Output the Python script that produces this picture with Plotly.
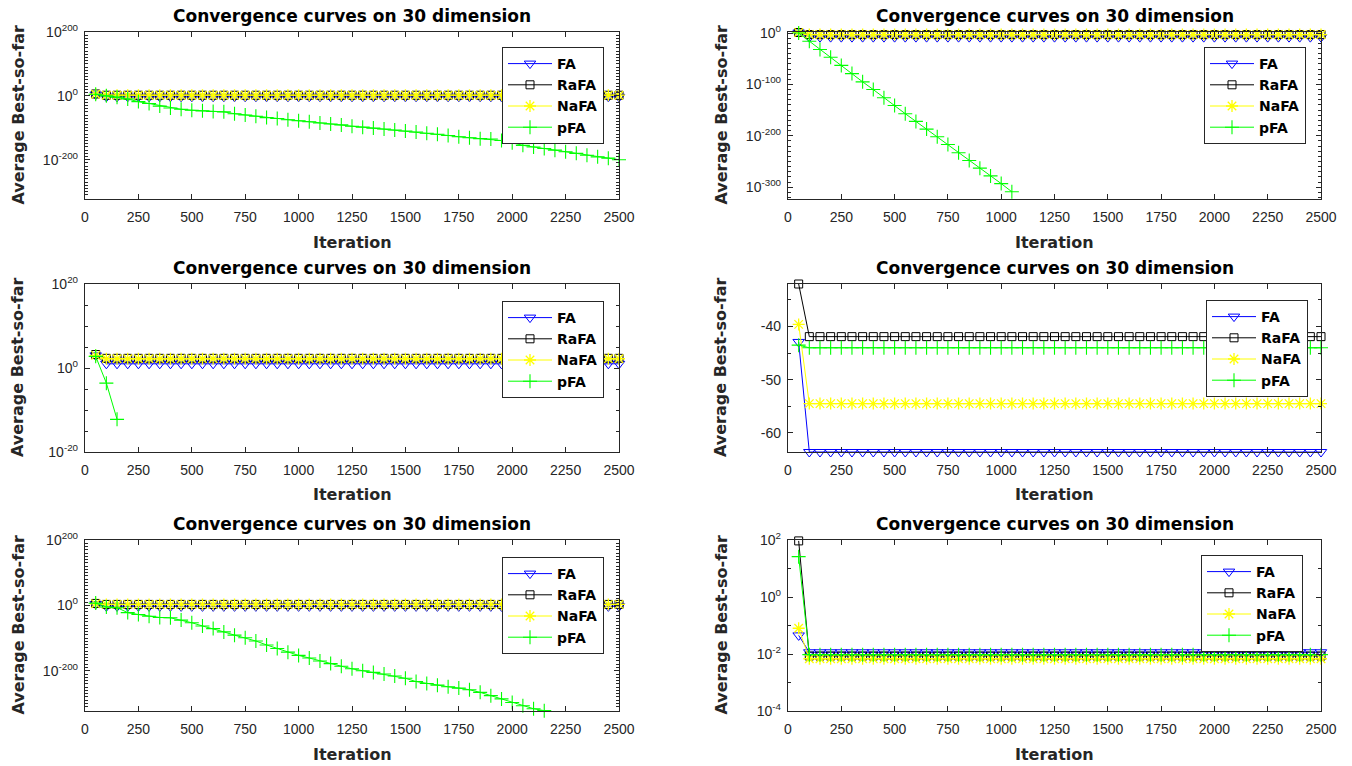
import plotly.graph_objects as go

# ---------------- data ----------------
ITER = list(range(50, 2501, 50))          # iteration at which each point is recorded
SERIES = ["FA", "RaFA", "NaFA", "pFA"]

# Panel 1 (top-left)
p1_FA   = [1e4]  + [1e-3] * 49
p1_RaFA = [1e6]  + [1e2] * 49
p1_NaFA = [1e5]  + [1e2] * 49
p1_pFA  = [1e5, 1e0, 1e-4, 1e-10, 1e-18, 1e-24, 1e-32, 1e-38, 1e-42, 1e-45,
           1e-47, 1e-49, 1e-50, 1e-56, 1e-60, 1e-64, 1e-68, 1e-71, 1e-75, 1e-78,
           1e-81, 1e-85, 1e-88, 1e-91, 1e-95, 1e-98, 1e-101, 1e-104, 1e-107, 1e-110,
           1e-113, 1e-117, 1e-120, 1e-124, 1e-128, 1e-131, 1e-134, 1e-135, 1e-140, 1e-147,
           1e-155, 1e-160, 1e-165, 1e-170, 1e-175, 1e-180, 1e-186, 1e-191, 1e-195, 1e-200]

# Panel 2 (top-right)
p2_FA   = [1e1] + [1e-8] * 49
p2_RaFA = [1e1] + [1e-3] * 49
p2_NaFA = [1e1] + [1e-3] * 49
p2_pFA  = [1e0, 1e-16, 1e-32, 1e-47, 1e-63, 1e-79, 1e-95, 1e-110, 1e-126, 1e-141,
           1e-157, 1e-172, 1e-187, 1e-202, 1e-217, 1e-233, 1e-248, 1e-263, 1e-278, 1e-293,
           1e-309]

# Panel 3 (middle-left)
p3_FA   = [1e3] + [1e1] * 49
p3_RaFA = [1.6e3] + [2e2] * 49
p3_NaFA = [1e3] + [1.6e2] * 49
p3_pFA  = [6e2, 2.5e-4, 6e-13]

# Panel 4 (middle-right, linear)
p4_FA   = [-42.9] + [-63.6] * 49
p4_RaFA = [-32.0] + [-41.9] * 49
p4_NaFA = [-39.6] + [-54.5] * 49
p4_pFA  = [-43.5] + [-44.0] * 49

# Panel 5 (bottom-left)
p5_FA   = [1e4] + [1e-3] * 49
p5_RaFA = [1e6] + [1e3] * 49
p5_NaFA = [1e5] + [1e3] * 49
p5_pFA  = [1e7, 1e-5, 1e-7, 1e-22, 1e-28, 1e-33, 1e-37, 1e-38, 1e-45, 1e-53,
           1e-63, 1e-71, 1e-81, 1e-91, 1e-99, 1e-109, 1e-121, 1e-132, 1e-143, 1e-153,
           1e-161, 1e-170, 1e-178, 1e-186, 1e-194, 1e-200, 1e-205, 1e-210, 1e-216, 1e-223,
           1e-233, 1e-239, 1e-244, 1e-249, 1e-253, 1e-258, 1e-266, 1e-276, 1e-286, 1e-297,
           1e-307, 1e-316, 1e-322]

# Panel 6 (bottom-right)
p6_FA   = [4.5e-2] + [1.15e-2] * 49
p6_RaFA = [93.0]   + [8.5e-3] * 49
p6_NaFA = [8.0e-2] + [6.8e-3] * 49
p6_pFA  = [26.0]   + [9.5e-3] * 49

PANELS = [
    dict(FA=p1_FA, RaFA=p1_RaFA, NaFA=p1_NaFA, pFA=p1_pFA),
    dict(FA=p2_FA, RaFA=p2_RaFA, NaFA=p2_NaFA, pFA=p2_pFA),
    dict(FA=p3_FA, RaFA=p3_RaFA, NaFA=p3_NaFA, pFA=p3_pFA),
    dict(FA=p4_FA, RaFA=p4_RaFA, NaFA=p4_NaFA, pFA=p4_pFA),
    dict(FA=p5_FA, RaFA=p5_RaFA, NaFA=p5_NaFA, pFA=p5_pFA),
    dict(FA=p6_FA, RaFA=p6_RaFA, NaFA=p6_NaFA, pFA=p6_pFA),
]

X_TICKS = [0, 250, 500, 750, 1000, 1250, 1500, 1750, 2000, 2250, 2500]
TITLE = "Convergence curves on 30 dimension"
XLABEL = "Iteration"
YLABEL = "Average Best-so-far"

# ---------------- styling ----------------
W, H = 1352, 766
COLORS = {"FA": "#0000FF", "RaFA": "#000000", "NaFA": "#FFFF00", "pFA": "#00FF00"}
SYMBOLS = {"FA": "triangle-down-open", "RaFA": "square-open",
           "NaFA": "asterisk-open", "pFA": "cross-thin-open"}
SIZES = {"FA": 10, "RaFA": 8, "NaFA": 10, "pFA": 10}
MLW = {"FA": 1, "RaFA": 1, "NaFA": 1.3, "pFA": 1.1}

COLS = [(85, 619), (788, 1321)]
ROWS = [(32, 199), (284, 452), (540, 711)]
LEGEND_POS = [(604, 47), (1306, 47), (604, 301), (1308, 300), (604, 557), (1303, 555)]

AXC = "#262626"
BOLD = "DejaVu Sans"
TICKF = "Liberation Sans"


def px(x):
    return x / W


def py(y):
    return 1 - y / H


def sup(e):
    return "10<sup>%d</sup>" % e


# y-axis configs per panel
YCFG = [
    dict(type="log", range=[-323, 200],
         tickvals=[1e-200, 1e0, 1e200], ticktext=[sup(-200), sup(0), sup(200)],
         minor_vals=[10.0 ** k for k in range(-320, 201, 10)]),
    dict(type="log", range=[-323, 2],
         tickvals=[1e-300, 1e-200, 1e-100, 1e0],
         ticktext=[sup(-300), sup(-200), sup(-100), sup(0)],
         minor_vals=[10.0 ** k for k in range(-320, 1, 10)]),
    dict(type="log", range=[-20, 20],
         tickvals=[1e-20, 1e0, 1e20], ticktext=[sup(-20), sup(0), sup(20)],
         minor_vals=[10.0 ** k for k in range(-15, 16, 5)]),
    dict(type="linear", range=[-63.6, -32.0],
         tickvals=[-60, -50, -40], ticktext=["-60", "-50", "-40"],
         minor_vals=[-55, -45, -35]),
    dict(type="log", range=[-323, 200],
         tickvals=[1e-200, 1e0, 1e200], ticktext=[sup(-200), sup(0), sup(200)],
         minor_vals=[10.0 ** k for k in range(-320, 201, 10)]),
    dict(type="log", range=[-4, 2],
         tickvals=[1e-4, 1e-2, 1e0, 1e2], ticktext=[sup(-4), sup(-2), sup(0), sup(2)],
         minor_vals=[1e-3, 1e-1, 1e1]),
]

fig = go.Figure()
layout = dict(width=W, height=H, margin=dict(l=0, r=0, t=0, b=0, autoexpand=False),
              paper_bgcolor="white", plot_bgcolor="white", showlegend=True)
annotations = []

for i, data in enumerate(PANELS):
    r, c = divmod(i, 2)
    x0, x1 = COLS[c]
    y0, y1 = ROWS[r]
    n = i + 1
    xa = "xaxis" if n == 1 else "xaxis%d" % n
    ya = "yaxis" if n == 1 else "yaxis%d" % n
    xr = "x" if n == 1 else "x%d" % n
    yr = "y" if n == 1 else "y%d" % n
    lg = "legend" if n == 1 else "legend%d" % n

    for s in SERIES:
        vals = data[s]
        fig.add_trace(go.Scatter(
            x=ITER[:len(vals)], y=vals, name=s, mode="lines+markers",
            xaxis=xr, yaxis=yr, legend=lg, legendgroup="%d_%s" % (n, s),
            line=dict(color=COLORS[s], width=1),
            marker=dict(symbol=SYMBOLS[s], size=SIZES[s], color=COLORS[s],
                        line=dict(color=COLORS[s], width=MLW[s])),
            cliponaxis=False,
        ))

    common = dict(showline=True, linecolor=AXC, linewidth=1.3, mirror="ticks",
                  ticks="inside", tickcolor=AXC, ticklen=5, tickwidth=1,
                  showgrid=False, zeroline=False, automargin=False,
                  tickfont=dict(family=TICKF, size=14, color=AXC))
    layout[xa] = dict(domain=[px(x0), px(x1)], anchor=yr, range=[0, 2500],
                      tickvals=X_TICKS, ticktext=[str(t) for t in X_TICKS],
                      ticklabelstandoff=5, **common)
    yc = YCFG[i]
    layout[ya] = dict(domain=[py(y1), py(y0)], anchor=xr, type=yc["type"],
                      range=yc["range"], tickvals=yc["tickvals"], ticktext=yc["ticktext"],
                      minor=dict(tickvals=yc["minor_vals"], ticks="inside", ticklen=3,
                                 tickcolor=AXC, tickwidth=1),
                      ticklabelstandoff=3, **common)

    lx, ly = LEGEND_POS[i]
    layout[lg] = dict(x=px(lx), y=py(ly), xanchor="right", yanchor="top",
                      bgcolor="white", bordercolor=AXC, borderwidth=1,
                      font=dict(family=BOLD, size=14, color="black", weight="bold"),
                      tracegroupgap=0, itemsizing="trace", itemwidth=44)

    cx = (x0 + x1) / 2
    annotations.append(dict(text=TITLE, x=px(cx), y=py(y0 - 16), xref="paper", yref="paper",
                            showarrow=False, xanchor="center", yanchor="middle",
                            font=dict(family=BOLD, size=17, color="black", weight="bold")))
    annotations.append(dict(text=XLABEL, x=px(cx), y=py(y1 + 43), xref="paper", yref="paper",
                            showarrow=False, xanchor="center", yanchor="middle",
                            font=dict(family=BOLD, size=16, color=AXC, weight="bold")))
    annotations.append(dict(text=YLABEL, x=px(x0 - 67), y=py((y0 + y1) / 2),
                            xref="paper", yref="paper", textangle=-90,
                            showarrow=False, xanchor="center", yanchor="middle",
                            font=dict(family=BOLD, size=16, color=AXC, weight="bold")))

layout["annotations"] = annotations
fig.update_layout(**layout)
fig.write_html("out.html",
               post_script="document.body.style.margin='0';")
